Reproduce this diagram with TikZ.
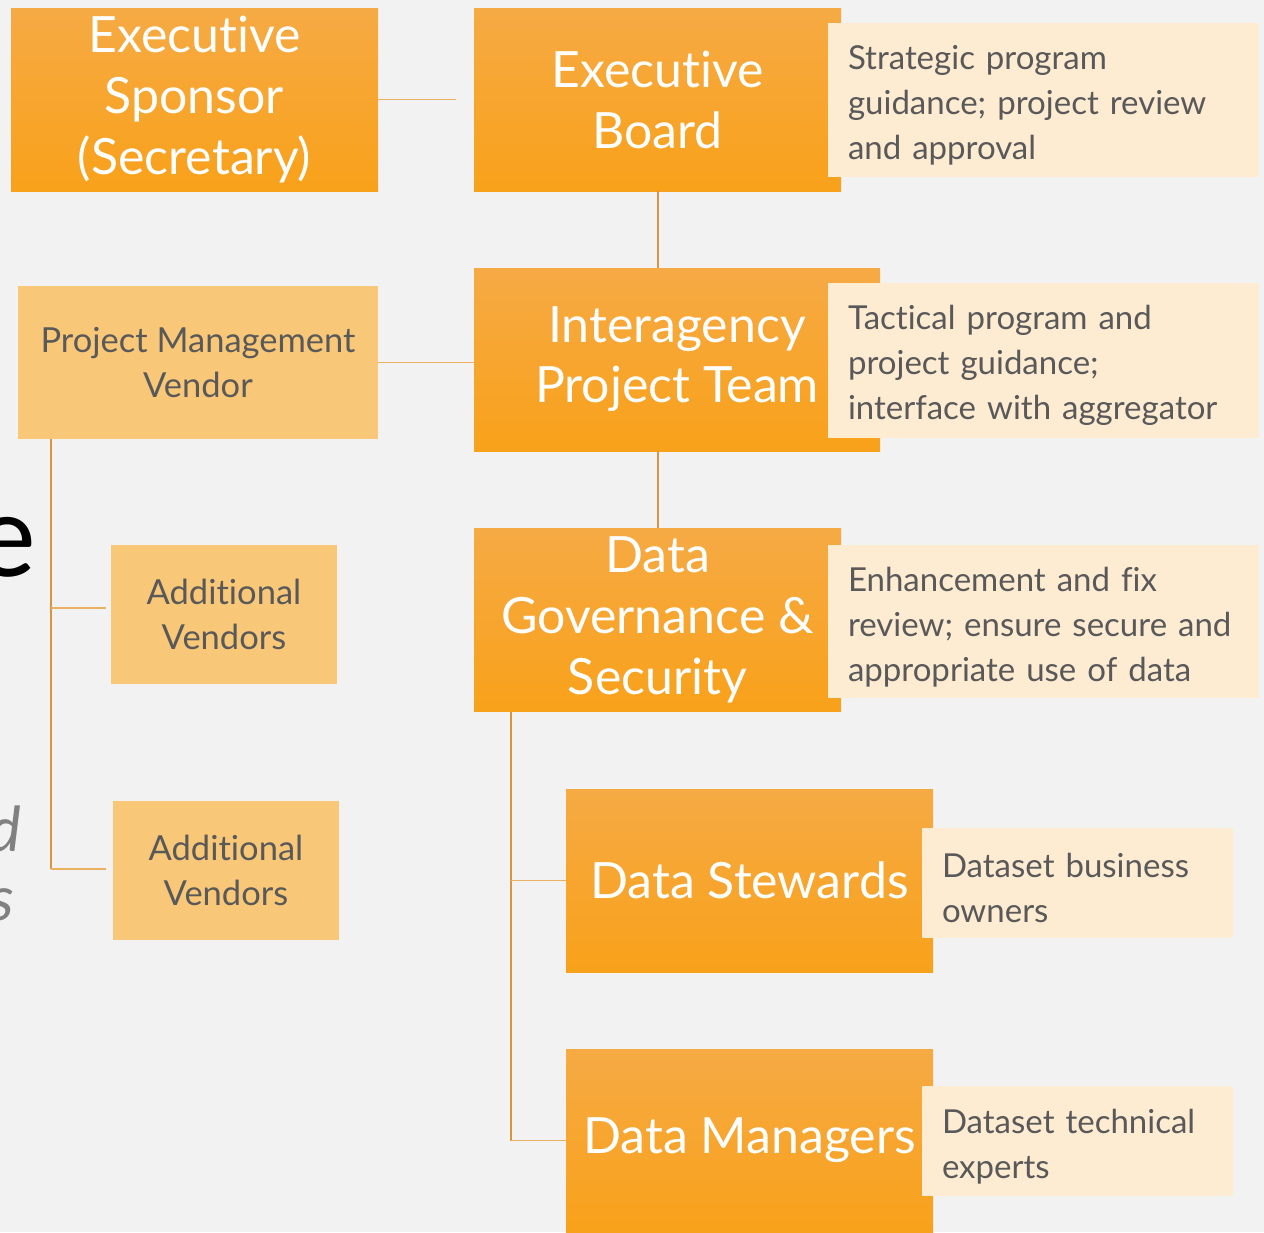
\documentclass[tikz,border=0pt]{standalone}
\usepackage{fontspec}
\setmainfont{Lato}[Ligatures=NoCommon]
\usetikzlibrary{positioning}

\definecolor{pagebg}{HTML}{F2F2F2}
\definecolor{orangetop}{HTML}{F6AA44}
\definecolor{orangebot}{HTML}{F8A11A}
\definecolor{vendorfill}{HTML}{F9C778}
\definecolor{notefill}{HTML}{FDEBD2}
\definecolor{notetext}{HTML}{595959}
\definecolor{treeline}{HTML}{D99541}
\definecolor{branchline}{HTML}{EBB060}

\begin{document}
\begin{tikzpicture}[
        x=1pt, y=-1pt,
        mainbox/.style={rectangle, top color=orangetop, bottom color=orangebot, draw=none,
            text=white, align=center, inner sep=0pt, minimum width=367pt, minimum height=183pt,
            font=\fontsize{50}{61}\selectfont},
        lowered/.style={execute at begin node={\rule{0pt}{45pt}}},
        vendorbox/.style={rectangle, fill=vendorfill, text=notetext, align=center, inner sep=0pt,
            font=\fontsize{34.5}{45}\selectfont},
        notebox/.style={rectangle, fill=notefill, text=notetext, align=left, inner xsep=20pt,
            inner ysep=0pt, font=\fontsize{33}{45}\selectfont,
            execute at begin node={\rule{0pt}{35pt}}},
        mainline/.style={draw=treeline, line width=2pt},
        branch/.style={draw=branchline, line width=1.6pt},
    ]
        \clip (0,0) rectangle (1264,1232);
        \fill[pagebg] (0,0) rectangle (1264,1232);

        % slide text cut off at the left edge
        \node (frage)[anchor=base east, inner sep=0pt, font=\fontsize{115}{115}\selectfont] at (36,576) {e};
        \node (fragd)[anchor=base east, inner sep=0pt, text=gray, font=\fontsize{62}{62}\selectfont\itshape] at (21,851) {d};
        \node (frags)[anchor=base east, inner sep=0pt, text=gray, font=\fontsize{62}{62}\selectfont\itshape] at (15,920) {s};

        %Nodes
        \node[mainbox, lowered] (sponsor) at (194.5,99.5) {Executive\\Sponsor\\(Secretary)};
        \node[mainbox, lowered] (board) at (657.5,99.5) {Executive\\Board};
        \node[mainbox, lowered, minimum width=406pt, font=\fontsize{50}{60}\selectfont] (team) at (677,359.5) {Interagency\\Project Team};
        \node[mainbox, lowered] (gov) at (657.5,620) {Data\\Governance \&\\Security};
        \node[mainbox] (stewards) at (749.5,880.5) {Data Stewards};
        \node[mainbox] (managers) at (749.5,1140.5) {Data Managers};

        \node[vendorbox, minimum width=360pt, minimum height=153pt] (pmv) at (198,362.5) {Project Management\\Vendor};
        \node[vendorbox, minimum width=226pt, minimum height=139pt] (vend1) at (224,614.5) {Additional\\Vendors};
        \node[vendorbox, minimum width=226pt, minimum height=139pt] (vend2) at (226,870.5) {Additional\\Vendors};

        \node[notebox, text width=391pt, minimum height=154pt] (boardnote) at (1043.5,100) {Strategic program\\guidance; project review\\and approval};
        \node[notebox, text width=391pt, minimum height=155pt] (teamnote) at (1043.5,360.5) {Tactical program and\\project guidance;\\interface with aggregator};
        \node[notebox, text width=391pt, minimum height=153pt] (govnote) at (1043.5,621.5) {Enhancement and fix\\review; ensure secure and\\appropriate use of data};
        \node[notebox, text width=271pt, minimum height=110pt] (stewnote) at (1077.5,883) {Dataset business\\owners};
        \node[notebox, text width=271pt, minimum height=110pt] (mannote) at (1077.5,1141) {Dataset technical\\experts};

        %Lines
        \coordinate (sponsorend) at (456,99.5);
        \draw[branch] (sponsor.east) -- (sponsorend);
        \draw[mainline] (board.south) -- (board.south |- team.north);
        \draw[mainline] (gov.north) -- (gov.north |- team.south);
        \draw[branch] (pmv.east) -- (pmv.east -| team.west);

        \coordinate (pmtrunk) at (51,439);
        \coordinate (vend1end) at (106,608);
        \coordinate (vend2end) at (106,869);
        \draw[mainline] (pmtrunk) -- (pmtrunk |- vend2end);
        \draw[branch] (pmtrunk |- vend1end) -- (vend1end);
        \draw[branch] (pmtrunk |- vend2end) -- (vend2end);

        \coordinate (govtrunk) at (511,712);
        \draw[mainline] (govtrunk) -- (govtrunk |- managers.west);
        \draw[branch] (govtrunk |- stewards.west) -- (stewards.west);
        \draw[branch] (govtrunk |- managers.west) -- (managers.west);
    \end{tikzpicture}
\end{document}
